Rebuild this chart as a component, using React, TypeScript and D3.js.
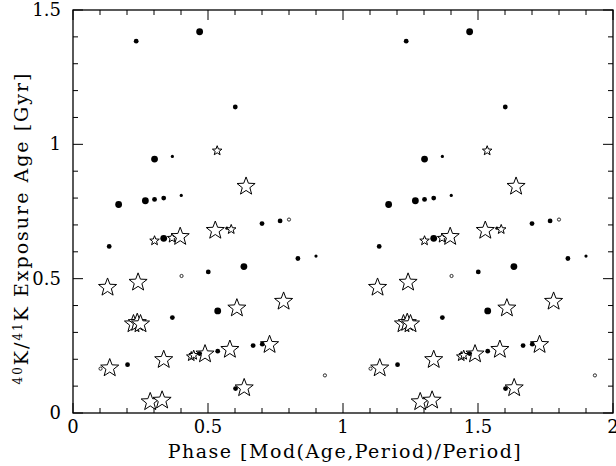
import React from "react";
import * as d3 from "d3";

// Phase (0–1), exposure age [Gyr], marker kind
const phases = [0.469, 0.234, 0.601, 0.534, 0.302, 0.368, 0.641, 0.169, 0.268, 0.302, 0.336, 0.401, 0.700, 0.767, 0.800, 0.302, 0.336, 0.367, 0.397, 0.527, 0.570, 0.586, 0.134, 0.833, 0.900, 0.402, 0.501, 0.633, 0.128, 0.241, 0.780, 0.607, 0.536, 0.368, 0.224, 0.238, 0.250, 0.728, 0.701, 0.667, 0.581, 0.536, 0.489, 0.469, 0.438, 0.447, 0.336, 0.136, 0.102, 0.202, 0.933, 0.634, 0.602, 0.286, 0.330];
const ages = [1.419, 1.384, 1.139, 0.980, 0.945, 0.955, 0.847, 0.776, 0.790, 0.795, 0.800, 0.810, 0.705, 0.715, 0.720, 0.645, 0.650, 0.655, 0.660, 0.683, 0.688, 0.687, 0.620, 0.575, 0.584, 0.510, 0.525, 0.545, 0.471, 0.490, 0.419, 0.394, 0.380, 0.355, 0.335, 0.340, 0.335, 0.258, 0.256, 0.251, 0.240, 0.230, 0.223, 0.221, 0.214, 0.219, 0.202, 0.171, 0.165, 0.180, 0.140, 0.097, 0.091, 0.045, 0.051];
const kinds = ["dotL", "dotM", "dotM", "starS", "dotL", "dotS", "starL", "dotL", "dotL", "dotM", "dotM", "dotS", "dotM", "dotM", "open", "starS", "dotL", "starS", "starL", "starL", "dotS", "starS", "dotM", "dotM", "dotS", "open", "dotM", "dotL", "starL", "starL", "starL", "starL", "dotL", "dotM", "starL", "starL", "starL", "starL", "dotM", "dotM", "starL", "dotM", "starL", "dotM", "starS", "starS", "starL", "starL", "open", "dotM", "open", "starL", "dotM", "starL", "starL"];
// The phase is plotted over two cycles
const cycles = [0, 1];

const xTicks = [0, 0.5, 1, 1.5, 2];
const xTickLabels = ["0", "0.5", "1", "1.5", "2"];
const yTicks = [0, 0.5, 1, 1.5];
const yTickLabels = ["0", "0.5", "1", "1.5"];

const W = 616, H = 466;
const L = 73, R = 613, T = 10, B = 413;
const FONT = "'DejaVu Serif', serif";

function starPath(cx: number, cy: number, r: number) {
  const ri = r * 0.42;
  const pts: string[] = [];
  for (let i = 0; i < 10; i++) {
    const a = -Math.PI / 2 + (i * Math.PI) / 5;
    const rr = i % 2 === 0 ? r : ri;
    pts.push(`${(cx + rr * Math.cos(a)).toFixed(2)},${(cy + rr * Math.sin(a)).toFixed(2)}`);
  }
  return "M" + pts.join("L") + "Z";
}

export default function App() {
  const x = d3.scaleLinear().domain([0, 2]).range([L, R]);
  const y = d3.scaleLinear().domain([0, 1.5]).range([B, T]);
  const minorX = d3.range(0, 2.0001, 0.1).map((v) => +v.toFixed(2));
  const minorY = d3.range(0, 1.5001, 0.1).map((v) => +v.toFixed(2));
  const isMajor = (v: number) => Math.abs(v * 2 - Math.round(v * 2)) < 1e-6;

  const marks: React.ReactNode[] = [];
  cycles.forEach((c) => {
    phases.forEach((p, i) => {
      const cx = x(p + c);
      const cy = y(ages[i]);
      const k = kinds[i];
      const key = `${c}-${i}`;
      if (k === "starL" || k === "starS") {
        marks.push(
          <path key={key} d={starPath(cx, cy + 1, k === "starL" ? 9.5 : 5)} fill="white" stroke="black" strokeWidth={1} strokeLinejoin="miter" />
        );
      } else if (k === "open") {
        marks.push(<circle key={key} cx={cx} cy={cy} r={1.6} fill="white" stroke="black" strokeWidth={0.8} />);
      } else {
        const r = k === "dotL" ? 3.4 : k === "dotM" ? 2.4 : 1.6;
        marks.push(<circle key={key} cx={cx} cy={cy} r={r} fill="black" />);
      }
    });
  });

  return (
    <svg width={W} height={H} style={{ position: "absolute", left: 0, top: 0, display: "block" }} fontFamily={FONT}>
      <rect x={0} y={0} width={W} height={H} fill="white" />
      {marks}
      {/* frame */}
      <rect x={L} y={T} width={R - L} height={B - T} fill="none" stroke="black" strokeWidth={1.3} />
      {/* ticks */}
      {minorX.map((v) => {
        const len = isMajor(v) ? 10 : 5;
        return (
          <g key={"xt" + v}>
            <line x1={x(v)} x2={x(v)} y1={B} y2={B - len} stroke="black" strokeWidth={1} />
            <line x1={x(v)} x2={x(v)} y1={T} y2={T + len} stroke="black" strokeWidth={1} />
          </g>
        );
      })}
      {minorY.map((v) => {
        const len = isMajor(v) ? 10 : 5;
        return (
          <g key={"yt" + v}>
            <line x1={L} x2={L + len} y1={y(v)} y2={y(v)} stroke="black" strokeWidth={1} />
            <line x1={R} x2={R - len} y1={y(v)} y2={y(v)} stroke="black" strokeWidth={1} />
          </g>
        );
      })}
      {xTicks.map((v, i) => (
        <text key={"xl" + v} x={x(v)} y={433} textAnchor="middle" fontSize={18}>
          {xTickLabels[i]}
        </text>
      ))}
      {yTicks.map((v, i) => (
        <text key={"yl" + v} x={61} y={y(v) + 6} textAnchor="end" fontSize={18}>
          {yTickLabels[i]}
        </text>
      ))}
      <text x={345} y={458} textAnchor="middle" fontSize={19} letterSpacing={1.5}>
        Phase [Mod(Age,Period)/Period]
      </text>
      <text transform={`translate(28,228) rotate(-90)`} textAnchor="middle" fontSize={19} letterSpacing={2}>
        <tspan fontSize={12} dy={-6}>40</tspan>
        <tspan dy={6}>K/</tspan>
        <tspan fontSize={12} dy={-6}>41</tspan>
        <tspan dy={6}>K Exposure Age [Gyr]</tspan>
      </text>
    </svg>
  );
}
